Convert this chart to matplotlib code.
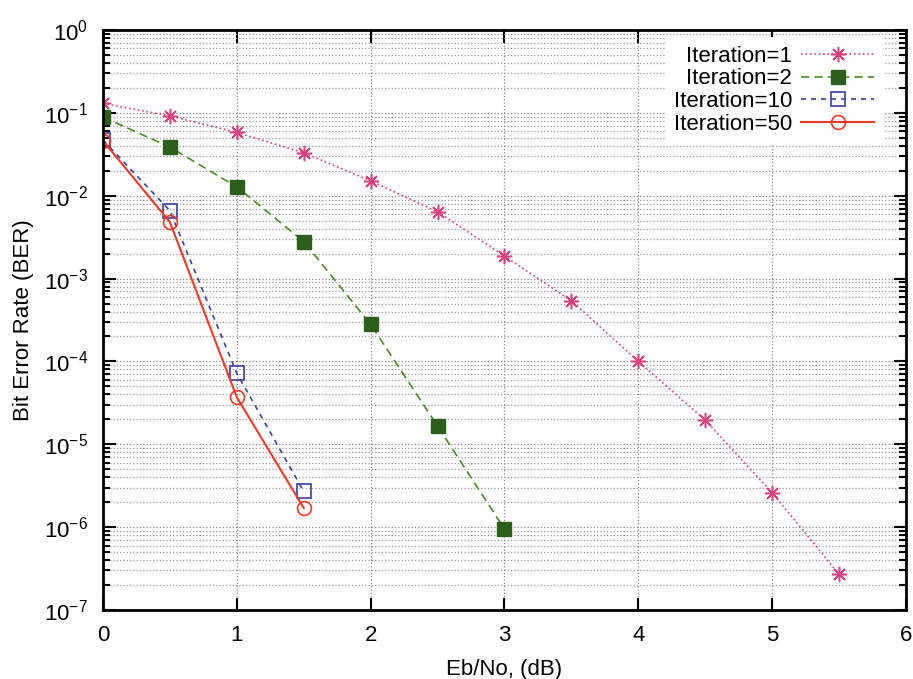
import numpy as np
import matplotlib
matplotlib.use("Agg")
import matplotlib.pyplot as plt
from matplotlib.ticker import LogLocator, MultipleLocator, NullFormatter

plt.rcParams['font.family'] = ['Liberation Sans', 'DejaVu Sans']
plt.rcParams['mathtext.default'] = 'regular'

# Eb/No points (dB) and BER per decoder iteration count
ebno_1 = [0, 0.5, 1, 1.5, 2, 2.5, 3, 3.5, 4, 4.5, 5, 5.5]
ber_1 = [0.13, 0.092, 0.058, 0.033, 0.0151, 0.0064, 0.00187, 5.4e-4, 1.0e-4, 1.96e-5, 2.6e-6, 2.7e-7]

ebno_2 = [0, 0.5, 1, 1.5, 2, 2.5, 3]
ber_2 = [0.089, 0.0386, 0.0128, 0.0028, 2.8e-4, 1.66e-5, 9.5e-7]

ebno_10 = [0, 0.5, 1, 1.5]
ber_10 = [0.047, 0.0066, 7.2e-5, 2.7e-6]

ebno_50 = [0, 0.5, 1, 1.5]
ber_50 = [0.046, 0.0048, 3.7e-5, 1.7e-6]

fig = plt.figure(figsize=(9.13, 6.79), dpi=100)
ax = fig.add_axes([0.1128, 0.1016, 0.8795, 0.8542])

ax.semilogy(ebno_1, ber_1, linestyle=':', color='#d8407e', lw=1.2,
            marker=(8, 2, 0), markersize=11, markeredgewidth=1.1,
            label='Iteration=1')
ax.semilogy(ebno_2, ber_2, linestyle=(0, (5, 3)), color='#4a8a2a', lw=1.2,
            marker='s', markersize=10, markerfacecolor='#2d5f1c',
            markeredgecolor='#2d5f1c', label='Iteration=2')
ax.semilogy(ebno_10, ber_10, linestyle=(0, (3, 3)), color='#3b3f99', lw=1.2,
            marker='s', markersize=10, markerfacecolor='none',
            markeredgewidth=1.2, label='Iteration=10')
ax.semilogy(ebno_50, ber_50, linestyle='-', color='#ec3b2a', lw=1.5,
            marker='o', markersize=10, markerfacecolor='none',
            markeredgewidth=1.2, label='Iteration=50')

ax.set_xlim(0, 6)
ax.set_ylim(1e-7, 1)
ax.xaxis.set_major_locator(MultipleLocator(1))
ax.yaxis.set_major_locator(LogLocator(base=10, numticks=20))
ax.yaxis.set_minor_locator(LogLocator(base=10, subs=np.arange(2, 10), numticks=20))
ax.yaxis.set_minor_formatter(NullFormatter())

ax.grid(True, which='major', axis='both', linestyle=':', color='#888888', lw=0.9)
ax.grid(True, which='minor', axis='y', linestyle=':', color='#999999', lw=0.9)

ax.tick_params(which='both', direction='in', top=True, right=True,
               labelsize=16, width=1.5)
ax.tick_params(which='major', length=9)
ax.tick_params(which='minor', length=5)
ax.tick_params(axis='x', which='major', pad=11)
ax.tick_params(axis='y', which='major', pad=11)
for sp in ax.spines.values():
    sp.set_linewidth(2)

ax.set_xlabel('Eb/No, (dB)', fontsize=16, labelpad=9)
ax.set_ylabel('Bit Error Rate (BER)', fontsize=16, labelpad=7)

leg = ax.legend(loc='upper right', bbox_to_anchor=(0.98, 1.0),
                markerfirst=False, fontsize=16, handletextpad=0.4,
                handlelength=3.3, labelspacing=0.08, borderaxespad=0.3,
                frameon=True, fancybox=False, framealpha=1)
leg.get_frame().set_edgecolor('none')

fig.savefig('out.png', dpi=100)
